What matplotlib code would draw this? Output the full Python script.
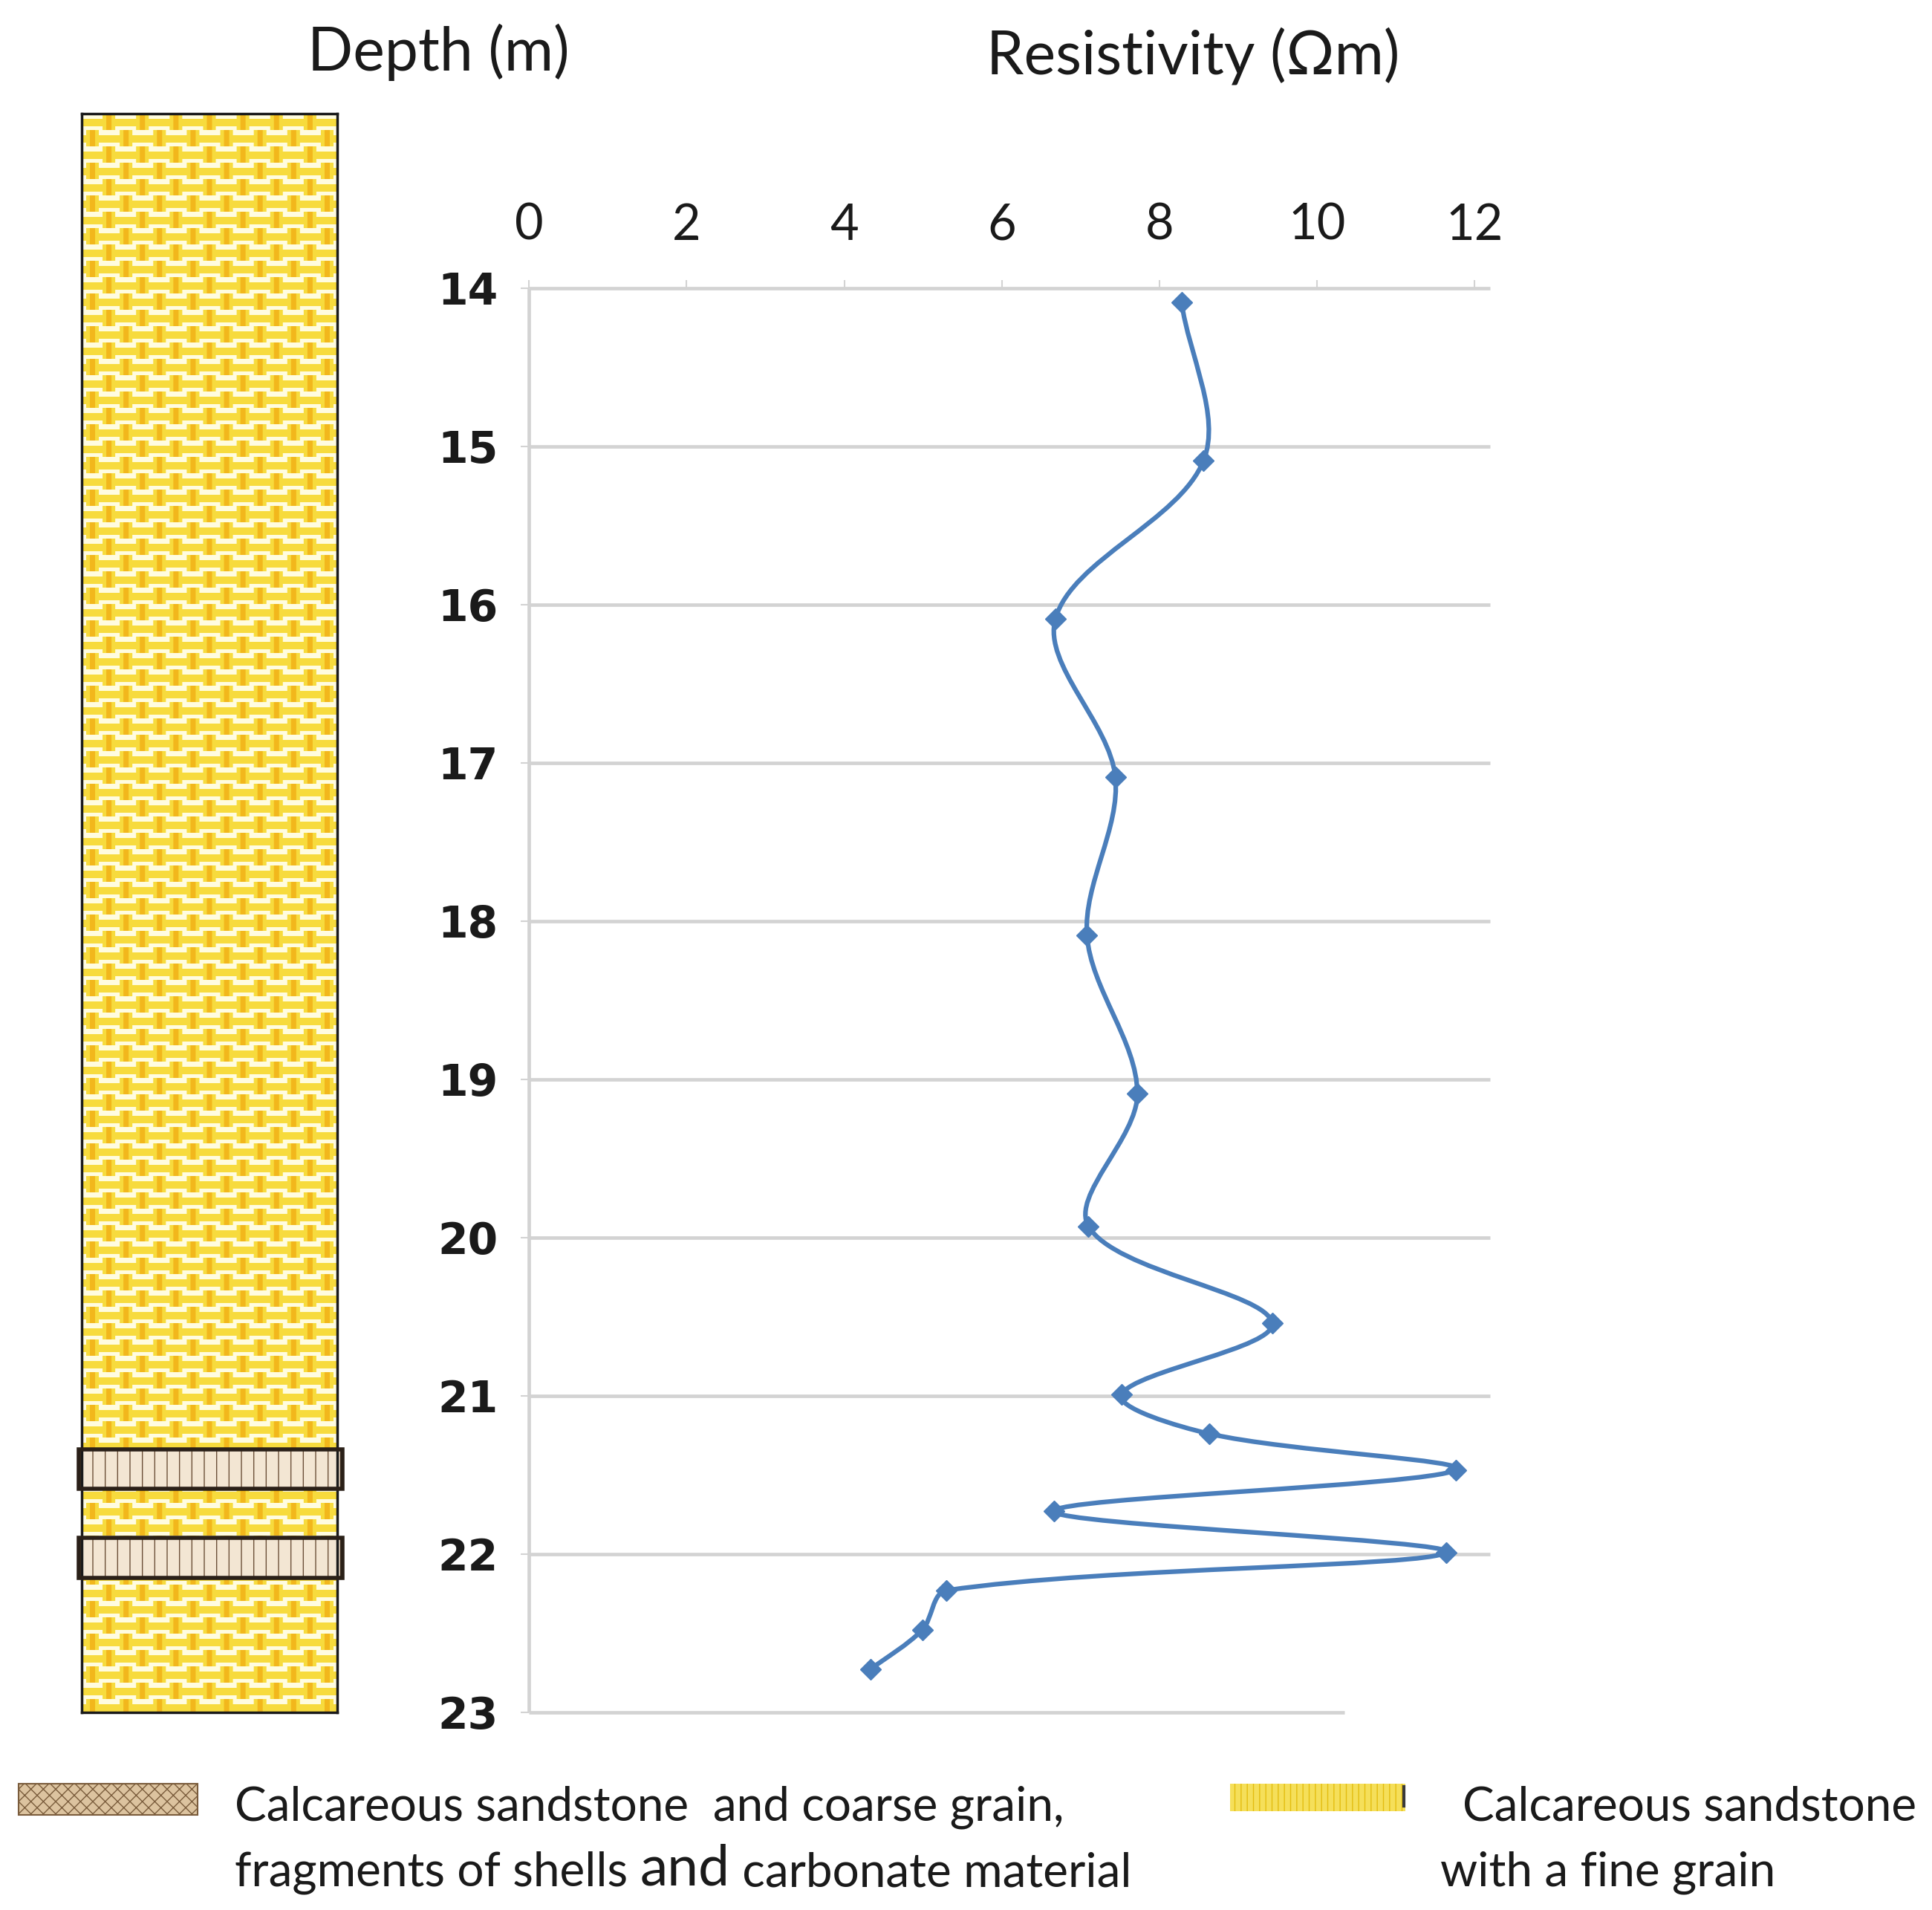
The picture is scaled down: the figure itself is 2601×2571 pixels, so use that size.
import numpy as np
import matplotlib.pyplot as plt
from matplotlib.path import Path
from matplotlib.patches import PathPatch, Rectangle

# values
depth = [14.09, 15.09, 16.09, 17.09, 18.09, 19.09, 19.93, 20.54,
         20.99, 21.24, 21.47, 21.73, 21.99, 22.23, 22.48, 22.73]
resistivity = [8.28, 8.56, 6.68, 7.44, 7.08, 7.72, 7.10, 9.43,
               7.52, 8.63, 11.76, 6.66, 11.64, 5.30, 4.99, 4.33]
depth_ticks = [14, 15, 16, 17, 18, 19, 20, 21, 22, 23]
res_ticks = [0, 2, 4, 6, 8, 10, 12]
coarse_layers = [(21.34, 21.59), (21.90, 22.15)]
column_top = 12.9

legend_coarse = ["Calcareous sandstone  and coarse grain,",
                 "fragments of shells ", "and", " carbonate material"]
legend_fine = ["Calcareous sandstone", "with a fine grain"]

TXT = ['Lato', 'DejaVu Sans']
BLUE = '#4a7ebb'
GRID = '#d3d3d3'
INK = '#1a1a1a'

# reference laid out on a 1563 x 1545 grid
W, H = 1563.0, 1545.0


def fx(x):
    return x / W


def fy(y):
    return 1 - y / H


def smooth_path(xs, ys, yscale=2.0):
    """ excel-like smoothed line: cubic beziers whose handles are scaled
    by the neighbouring segment lengths, so short steps don't loop """
    p = np.column_stack([xs, ys])
    n = len(p)
    seg = np.hypot(np.diff(p[:, 0]), np.diff(p[:, 1]) * yscale)
    verts = [p[0]]
    codes = [Path.MOVETO]
    for i in range(n - 1):
        if i > 0:
            f1 = seg[i] / (seg[i - 1] + seg[i]) / 3
            c1 = p[i] + (p[i + 1] - p[i - 1]) * f1
        else:
            c1 = p[i] + (p[i + 1] - p[i]) / 3
        if i + 2 < n:
            f2 = seg[i] / (seg[i] + seg[i + 1]) / 3
            c2 = p[i + 1] - (p[i + 2] - p[i]) * f2
        else:
            c2 = p[i + 1] - (p[i + 1] - p[i]) / 3
        verts += [c1, c2, p[i + 1]]
        codes += [Path.CURVE4] * 3
    return Path(verts, codes)


def brick_texture(h, w, row=22, col=45, bw=28, bh=12):
    base = np.array([0.97, 0.86, 0.24])
    joint = np.array([0.95, 0.72, 0.11])
    brick = np.array([1.0, 0.99, 0.88])
    img = np.empty((h, w, 3))
    img[:] = base
    yy, xx = np.mgrid[0:h, 0:w]
    shift = ((yy // row) % 2) * (col // 2)
    u = (xx + shift) % col
    v = (yy + 5) % row
    img[(u >= bw + 5) & (u < bw + 12)] = joint
    img[(u < bw) & (v < bh)] = brick
    return img


fig = plt.figure(figsize=(26.01, 25.71), dpi=100)

# ---- resistivity log ----
xmax = 12.2
ax = fig.add_axes([fx(428), fy(1385), (xmax / 12) * (1193 - 428) / W,
                   (1385 - 233) / H])
ax.set_xlim(0, xmax)
ax.set_ylim(23, 14)
for s in ax.spines.values():
    s.set_visible(False)

ax.hlines(depth_ticks[:-1], 0, xmax, color=GRID, lw=3.4, zorder=1,
          clip_on=False)
ax.hlines(depth_ticks[-1], 0, 10.35, color=GRID, lw=3.4, zorder=1,
          clip_on=False)
ax.vlines(0, 14, 23, color=GRID, lw=3.4, zorder=1, clip_on=False)

ax.add_patch(PathPatch(smooth_path(resistivity, depth), fill=False,
                       edgecolor=BLUE, lw=4.5, zorder=3))
ax.plot(resistivity, depth, ls='none', marker='D', ms=14, color=BLUE,
        zorder=4)

ax.xaxis.tick_top()
ax.set_xticks(res_ticks)
ax.set_xticklabels([str(v) for v in res_ticks], family=TXT, fontsize=48,
                   color=INK)
ax.tick_params(axis='x', length=8, width=1.5, color=GRID, pad=30)
ax.set_yticks(depth_ticks)
ax.set_yticklabels([str(v) for v in depth_ticks], family='DejaVu Sans',
                   fontweight='bold', fontsize=42, color=INK)
ax.tick_params(axis='y', length=8, width=1.5, color=GRID, pad=22)

# ---- lithology column ----
cax = fig.add_axes([fx(66), fy(1385), (273 - 66) / W, (1385 - 92) / H])
cax.set_xlim(0, 1)
cax.set_ylim(23, column_top)
cax.set_xticks([])
cax.set_yticks([])
cax.imshow(brick_texture(2152, 344), extent=(0, 1, 23, column_top),
           aspect='auto', interpolation='bilinear', zorder=0)
for s in cax.spines.values():
    s.set_linewidth(2.5)
    s.set_color(INK)

for top, bot in coarse_layers:
    cax.add_patch(Rectangle((-0.01, top), 1.03, bot - top,
                            facecolor='#f3e6d3', edgecolor='#6b5038',
                            hatch='|', lw=0, clip_on=False, zorder=2))
    cax.add_patch(Rectangle((-0.01, top), 1.03, bot - top, fill=False,
                            edgecolor='#2a2018', lw=4, clip_on=False,
                            zorder=3))

# ---- headers ----
fig.text(fx(355), fy(42), 'Depth (m)', family=TXT, fontsize=58,
         ha='center', va='center', color=INK)
fig.text(fx(965), fy(45), 'Resistivity (Ωm)', family=TXT, fontsize=58,
         ha='center', va='center', color=INK)

# ---- legend ----
fig.patches.append(Rectangle((fx(15), fy(1468)), (160 - 15) / W,
                             (1468 - 1443) / H, transform=fig.transFigure,
                             facecolor='#dcc39f', edgecolor='#7a5c3c',
                             hatch='xx', lw=1.5))
fig.patches.append(Rectangle((fx(995), fy(1465)), (1137 - 995) / W,
                             (1465 - 1443) / H, transform=fig.transFigure,
                             facecolor='#f5df5a', edgecolor='#e3bd10',
                             hatch='||', lw=0))
fig.lines.append(plt.Line2D([fx(1136), fx(1136)], [fy(1461), fy(1445)],
                            transform=fig.transFigure, color='#3a3a3a',
                            lw=3))

fig.text(fx(190), fy(1462), legend_coarse[0], family=TXT, fontsize=46,
         va='center', color=INK)
t1 = fig.text(fx(190), fy(1515), legend_coarse[1], family=TXT, fontsize=46,
              va='center', color=INK)
t2 = plt.annotate(legend_coarse[2], xy=(1, 0), xycoords=t1, family=TXT,
                  fontsize=54, va='bottom', ha='left', color=INK,
                  annotation_clip=False)
plt.annotate(legend_coarse[3], xy=(1, 0), xycoords=t2, family=TXT,
             fontsize=46, va='bottom', ha='left', color=INK,
             annotation_clip=False)
fig.text(fx(1183), fy(1462), legend_fine[0], family=TXT, fontsize=46,
         va='center', color=INK)
fig.text(fx(1165), fy(1515), legend_fine[1], family=TXT, fontsize=46,
         va='center', color=INK)

fig.savefig('out.png', dpi=100, facecolor='white')
